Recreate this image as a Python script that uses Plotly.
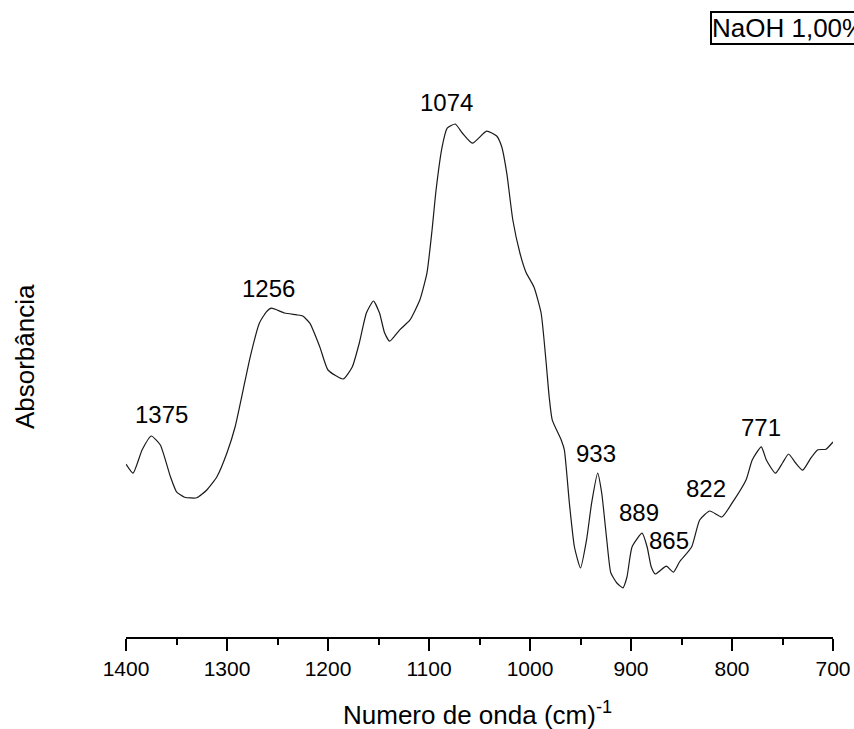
import plotly.graph_objects as go

# FTIR spectrum, NaOH 1,00% sample
wavenumber = [
    1400, 1393, 1384, 1375, 1366, 1356, 1350, 1342, 1330, 1320, 1310, 1300,
    1292, 1284, 1277, 1268, 1261, 1256, 1243, 1231, 1225, 1218, 1208, 1200,
    1185, 1176, 1169, 1162, 1155, 1149, 1144, 1139, 1129, 1119, 1109, 1102,
    1097, 1093, 1087, 1082, 1074, 1067, 1057, 1043, 1033, 1028, 1023, 1017,
    1010, 1004, 996, 989, 984, 981, 978, 969, 966, 961, 956, 950, 944, 939,
    933, 929, 924, 920, 914, 908, 904, 899, 889, 884, 880, 876, 865, 858,
    852, 840, 832, 822, 810, 800, 786, 780, 771, 766, 757, 750, 744, 737,
    730, 722, 715, 707, 700,
]
absorbance = [
    0.288, 0.273, 0.312, 0.335, 0.320, 0.267, 0.242, 0.233, 0.232, 0.245, 0.267, 0.307,
    0.350, 0.412, 0.467, 0.523, 0.542, 0.548, 0.540, 0.537, 0.535, 0.523, 0.483, 0.445,
    0.430, 0.450, 0.490, 0.540, 0.560, 0.540, 0.507, 0.493, 0.512, 0.528, 0.562, 0.607,
    0.678, 0.745, 0.817, 0.848, 0.855, 0.840, 0.823, 0.843, 0.835, 0.817, 0.773, 0.695,
    0.640, 0.608, 0.583, 0.540, 0.457, 0.400, 0.362, 0.328, 0.312, 0.223, 0.150, 0.115,
    0.162, 0.223, 0.273, 0.240, 0.162, 0.107, 0.090, 0.082, 0.100, 0.150, 0.173, 0.150,
    0.117, 0.105, 0.118, 0.108, 0.125, 0.150, 0.195, 0.210, 0.200, 0.223, 0.262, 0.295,
    0.317, 0.295, 0.273, 0.290, 0.305, 0.290, 0.278, 0.298, 0.312, 0.313, 0.325,
]

# Labelled bands and the pixel offsets of their labels
peaks = [1375, 1256, 1074, 933, 889, 865, 822, 771]
peak_dx = [10, -3, -9, -2, -3, 3, -4, 0]
peak_dy = [22, 20, 22, 20, 21, 26, 23, 19]

tick_vals = [1400, 1300, 1200, 1100, 1000, 900, 800, 700]

FONT = "Arial, Liberation Sans, sans-serif"

fig = go.Figure()
fig.add_trace(go.Scatter(
    x=wavenumber, y=absorbance, mode="lines",
    line=dict(color="#1a1a1a", width=1.2, shape="spline", smoothing=0.5),
    showlegend=False, hoverinfo="skip",
))

for wn, dx, dy in zip(peaks, peak_dx, peak_dy):
    a = absorbance[wavenumber.index(wn)]
    fig.add_annotation(
        x=wn, y=a, text=str(wn), showarrow=False,
        xshift=dx, yshift=dy, xanchor="center", yanchor="middle",
        font=dict(family=FONT, size=24, color="black"),
    )

# Axis titles
fig.add_annotation(
    xref="paper", yref="paper", x=0.497, y=-0.127,
    xanchor="center", yanchor="middle",
    text="Numero de onda (cm)<sup>-1</sup>", showarrow=False,
    font=dict(family=FONT, size=26, color="black"),
)
fig.add_annotation(
    xref="paper", yref="paper", x=-0.143, y=0.468,
    xanchor="center", yanchor="middle",
    text="Absorbância", textangle=-90, showarrow=False,
    font=dict(family=FONT, size=26, color="black"),
)

# Legend box (runs past the right edge of the page)
fig.add_annotation(
    xref="paper", yref="paper", x=0.826, y=1.043,
    xanchor="left", yanchor="top",
    text="NaOH 1,00%", showarrow=False, align="left",
    font=dict(family=FONT, size=26, color="black"),
    bordercolor="black", borderwidth=2, borderpad=0, bgcolor="white",
)

fig.update_layout(
    width=854, height=729,
    margin=dict(l=126, r=21, t=37, b=92, autoexpand=False),
    paper_bgcolor="white", plot_bgcolor="white",
    xaxis=dict(
        range=[1400, 700], tickvals=tick_vals, automargin=False,
        ticks="outside", ticklen=12, tickwidth=1.5, tickcolor="black",
        showline=True, linecolor="black", linewidth=1.5,
        showgrid=False, zeroline=False,
        tickfont=dict(family=FONT, size=21, color="black"),
        minor=dict(tickvals=[1350, 1250, 1150, 1050, 950, 850, 750],
                   ticks="outside", ticklen=6, tickwidth=1.5, tickcolor="black"),
    ),
    yaxis=dict(range=[0, 1], visible=False, automargin=False),
)

fig.write_html("out.html")
